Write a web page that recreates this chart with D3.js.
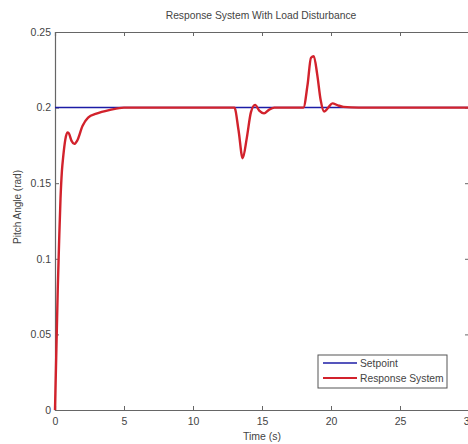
<!DOCTYPE html>
<html>
<head>
<meta charset="utf-8">
<script src="https://cdn.jsdelivr.net/npm/d3@7"></script>
<style>
  body { margin: 0; background: #fff; }
  text { font-family: "Liberation Sans", Arial, sans-serif; fill: #444; }
</style>
</head>
<body>
<div id="chart"></div>
<script>
// setpoint and response
const setpointT = [0, 30];
const setpointV = [0.2, 0.2];

const responseT = [0, 0.1, 0.2, 0.3, 0.4, 0.5, 0.6, 0.75, 0.9, 1.0, 1.2, 1.4, 1.6, 2.0, 2.4, 3.0, 4.0, 5.0,
  13.0, 13.3, 13.6, 13.9, 14.2, 14.5, 14.8, 15.15, 15.5, 15.9,
  18.0, 18.3, 18.55, 18.75, 19.0, 19.25, 19.5, 19.8, 20.1, 20.5, 20.9, 22.0, 30];
const responseV = [0, 0.04, 0.08, 0.112, 0.14, 0.158, 0.168, 0.179, 0.1835, 0.183, 0.178, 0.176, 0.178, 0.188, 0.1934, 0.196, 0.1985, 0.2,
  0.2, 0.185, 0.1665, 0.18, 0.197, 0.2018, 0.198, 0.1962, 0.1985, 0.2,
  0.2, 0.215, 0.233, 0.234, 0.222, 0.205, 0.1974, 0.2, 0.2028, 0.2015, 0.2005, 0.2, 0.2];

const xTicks = [0, 5, 10, 15, 20, 25, 30];
const yTicks = [0, 0.05, 0.1, 0.15, 0.2, 0.25];
const legendItems = [
  { name: "Setpoint", color: "#1c1ca6" },
  { name: "Response System", color: "#d2222c" }
];

const width = 468, height = 444;
const margin = { left: 55, top: 32, right: -1, bottom: 34 };

const svg = d3.select("#chart").append("svg")
  .attr("width", width)
  .attr("height", height);

const x = d3.scaleLinear().domain([0, 30]).range([margin.left, width - margin.right]);
const y = d3.scaleLinear().domain([0, 0.25]).range([height - margin.bottom, margin.top]);

// axes, MATLAB style ticks pointing inward
const fmt = d => d === 0 ? "0" : String(+d.toFixed(2));

svg.append("g")
  .attr("transform", `translate(0,${y(0)})`)
  .call(d3.axisBottom(x).tickValues(xTicks).tickSize(-4).tickPadding(8).tickFormat(fmt));

svg.append("g")
  .attr("transform", `translate(${x(0)},0)`)
  .call(d3.axisLeft(y).tickValues(yTicks).tickSize(-4).tickPadding(4).tickFormat(fmt));

svg.append("g")
  .attr("transform", `translate(0,${y(0.25)})`)
  .call(d3.axisTop(x).tickValues(xTicks).tickSize(-4).tickFormat(""));

svg.append("g")
  .attr("transform", `translate(${x(30)},0)`)
  .call(d3.axisRight(y).tickValues(yTicks).tickSize(-4).tickFormat(""));

svg.selectAll(".domain").attr("stroke", "#666").attr("stroke-width", 1.2);
svg.selectAll(".tick line").attr("stroke", "#666");
svg.selectAll(".tick text").style("font-size", "10.5px").attr("fill", "#444");

// lines
const line = d3.line().x(d => x(d[0])).y(d => y(d[1]));

svg.append("path")
  .datum(d3.zip(setpointT, setpointV))
  .attr("d", line)
  .attr("fill", "none")
  .attr("stroke", legendItems[0].color)
  .attr("stroke-width", 1.5);

svg.append("path")
  .datum(d3.zip(responseT, responseV))
  .attr("d", line.curve(d3.curveMonotoneX))
  .attr("fill", "none")
  .attr("stroke", legendItems[1].color)
  .attr("stroke-width", 2.4);

// title and labels
svg.append("text")
  .attr("x", 261).attr("y", 19)
  .attr("text-anchor", "middle")
  .style("font-size", "10.3px")
  .text("Response System With Load Disturbance");

svg.append("text")
  .attr("x", 262).attr("y", 440)
  .attr("text-anchor", "middle")
  .style("font-size", "10.5px")
  .text("Time (s)");

svg.append("text")
  .attr("transform", "translate(21,207) rotate(-90)")
  .attr("text-anchor", "middle")
  .style("font-size", "10px")
  .text("Pitch Angle (rad)");

// legend
const legend = svg.append("g").attr("transform", "translate(318,355)");
legend.append("rect")
  .attr("width", 129).attr("height", 33)
  .attr("fill", "#fff").attr("stroke", "#555").attr("stroke-width", 1);

legend.selectAll("g.item")
  .data(legendItems)
  .enter()
  .append("g")
  .attr("transform", (d, i) => `translate(0,${8 + i * 15})`)
  .each(function (d) {
    const g = d3.select(this);
    g.append("line")
      .attr("x1", 5).attr("x2", 39)
      .attr("stroke", d.color)
      .attr("stroke-width", d.name === "Setpoint" ? 1.5 : 2.2);
    g.append("text")
      .attr("x", 42).attr("dy", "0.35em")
      .style("font-size", "10.3px")
      .text(d.name);
  });
</script>
</body>
</html>
